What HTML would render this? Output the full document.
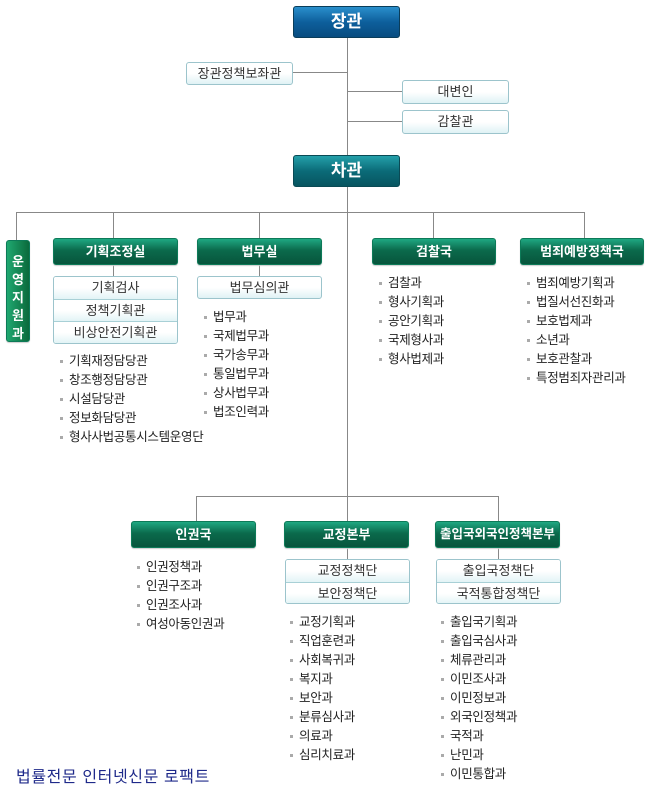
<!DOCTYPE html>
<html><head><meta charset="utf-8"><style>
*{margin:0;padding:0;box-sizing:border-box}
body{width:650px;height:794px;background:#fff;position:relative;overflow:hidden;font-family:"Liberation Sans","Noto Sans CJK KR","NanumGothic",sans-serif;color:#222}
.a{position:absolute}
.ln{position:absolute;background:#888}
.top{position:absolute;border-radius:3px;color:#fff;font-weight:bold;font-size:17px;text-align:center;border:1px solid #0a3d5a}
.g{position:absolute;border-radius:3px;color:#fff;font-weight:bold;font-size:13px;text-align:center;background:linear-gradient(#1fa882,#0b6a4c 45%,#07553c);border:1px solid #0d7a58;box-shadow:0 1px 1px #ccc}
.w{position:absolute;border:1px solid #9cc4cc;border-radius:3px;background:linear-gradient(#fff,#fff 50%,#dff2f5);font-size:13px;text-align:center;color:#333}
.sub{position:absolute;border:1px solid #9cc4cc;border-radius:3px;font-size:13px;color:#333;text-align:center;overflow:hidden}
.sub div{background:linear-gradient(#fff,#fff 50%,#e2f4f6);border-top:1px solid #a8d0d6}
.sub div:first-child{border-top:none}
ul{position:absolute;list-style:none;font-size:12.5px;color:#222;letter-spacing:-0.3px}
ul li{height:19px;line-height:19px;padding-left:9px;position:relative;white-space:nowrap}
ul li:before{content:"";position:absolute;left:0;top:8px;width:3px;height:3px;background:#aaa}
</style></head><body>
<div class="ln" style="left:347px;top:38px;width:1px;height:117px"></div>
<div class="ln" style="left:293px;top:72px;width:54px;height:1px"></div>
<div class="ln" style="left:347px;top:91px;width:55px;height:1px"></div>
<div class="ln" style="left:347px;top:121px;width:55px;height:1px"></div>
<div class="ln" style="left:347px;top:187px;width:1px;height:309px"></div>
<div class="ln" style="left:16px;top:212px;width:569px;height:1px"></div>
<div class="ln" style="left:16px;top:212px;width:1px;height:28px"></div>
<div class="ln" style="left:113px;top:212px;width:1px;height:26px"></div>
<div class="ln" style="left:259px;top:212px;width:1px;height:26px"></div>
<div class="ln" style="left:433px;top:212px;width:1px;height:26px"></div>
<div class="ln" style="left:584px;top:212px;width:1px;height:26px"></div>
<div class="ln" style="left:113px;top:265px;width:1px;height:11px"></div>
<div class="ln" style="left:259px;top:265px;width:1px;height:11px"></div>
<div class="ln" style="left:196px;top:496px;width:303px;height:1px"></div>
<div class="ln" style="left:196px;top:496px;width:1px;height:25px"></div>
<div class="ln" style="left:347px;top:496px;width:1px;height:25px"></div>
<div class="ln" style="left:498px;top:496px;width:1px;height:25px"></div>
<div class="ln" style="left:347px;top:548px;width:1px;height:11px"></div>
<div class="ln" style="left:498px;top:548px;width:1px;height:11px"></div>

<div class="top" style="left:293px;top:6px;width:107px;height:32px;line-height:30px;background:linear-gradient(#2a8fcc,#0d5f9c 50%,#084c80)">장관</div>
<div class="w" style="left:186px;top:62px;width:107px;height:23px;line-height:21px">장관정책보좌관</div>
<div class="w" style="left:402px;top:80px;width:107px;height:24px;line-height:22px">대변인</div>
<div class="w" style="left:402px;top:110px;width:107px;height:24px;line-height:22px">감찰관</div>
<div class="top" style="left:293px;top:155px;width:107px;height:32px;line-height:30px;background:linear-gradient(#24a0aa,#0b6b78 50%,#075560);border-color:#0a4a55">차관</div>

<div class="g" style="left:6px;top:240px;width:24px;height:102px;font-size:13px;line-height:18px;padding-top:12px;background:linear-gradient(90deg,#1fa870,#0b6a3c)">운<br>영<br>지<br>원<br>과</div>
<div class="g" style="left:53px;top:238px;width:125px;height:27px;line-height:25px">기획조정실</div>
<div class="g" style="left:197px;top:238px;width:125px;height:27px;line-height:25px">법무실</div>
<div class="g" style="left:372px;top:238px;width:124px;height:27px;line-height:25px">검찰국</div>
<div class="g" style="left:520px;top:238px;width:124px;height:27px;line-height:25px">범죄예방정책국</div>

<div class="sub" style="left:53px;top:276px;width:125px;height:68px"><div style="height:22px;line-height:22px">기획검사</div><div style="height:22px;line-height:21px">정책기획관</div><div style="height:22px;line-height:21px">비상안전기획관</div></div>
<div class="w" style="left:197px;top:276px;width:125px;height:23px;line-height:21px">법무심의관</div>

<ul style="left:60px;top:352px"><li>기획재정담당관</li><li>창조행정담당관</li><li>시설담당관</li><li>정보화담당관</li><li>형사사법공통시스템운영단</li></ul>
<ul style="left:204px;top:308px"><li>법무과</li><li>국제법무과</li><li>국가송무과</li><li>통일법무과</li><li>상사법무과</li><li>법조인력과</li></ul>
<ul style="left:379px;top:274px"><li>검찰과</li><li>형사기획과</li><li>공안기획과</li><li>국제형사과</li><li>형사법제과</li></ul>
<ul style="left:527px;top:274px"><li>범죄예방기획과</li><li>법질서선진화과</li><li>보호법제과</li><li>소년과</li><li>보호관찰과</li><li>특정범죄자관리과</li></ul>

<div class="g" style="left:131px;top:521px;width:125px;height:27px;line-height:25px">인권국</div>
<div class="g" style="left:284px;top:521px;width:125px;height:27px;line-height:25px">교정본부</div>
<div class="g" style="left:435px;top:521px;width:125px;height:27px;line-height:25px;font-size:12.5px">출입국외국인정책본부</div>

<div class="sub" style="left:285px;top:559px;width:125px;height:45px"><div style="height:22px;line-height:22px">교정정책단</div><div style="height:22px;line-height:21px">보안정책단</div></div>
<div class="sub" style="left:436px;top:559px;width:125px;height:45px"><div style="height:22px;line-height:22px">출입국정책단</div><div style="height:22px;line-height:21px">국적통합정책단</div></div>

<ul style="left:137px;top:558px"><li>인권정책과</li><li>인권구조과</li><li>인권조사과</li><li>여성아동인권과</li></ul>
<ul style="left:290px;top:613px"><li>교정기획과</li><li>직업훈련과</li><li>사회복귀과</li><li>복지과</li><li>보안과</li><li>분류심사과</li><li>의료과</li><li>심리치료과</li></ul>
<ul style="left:441px;top:613px"><li>출입국기획과</li><li>출입국심사과</li><li>체류관리과</li><li>이민조사과</li><li>이민정보과</li><li>외국인정책과</li><li>국적과</li><li>난민과</li><li>이민통합과</li></ul>

<div class="a" style="left:16px;top:763px;font-size:16px;letter-spacing:0.6px;color:#1f2a8a;white-space:nowrap">법률전문 인터넷신문 로팩트</div>
</body></html>
